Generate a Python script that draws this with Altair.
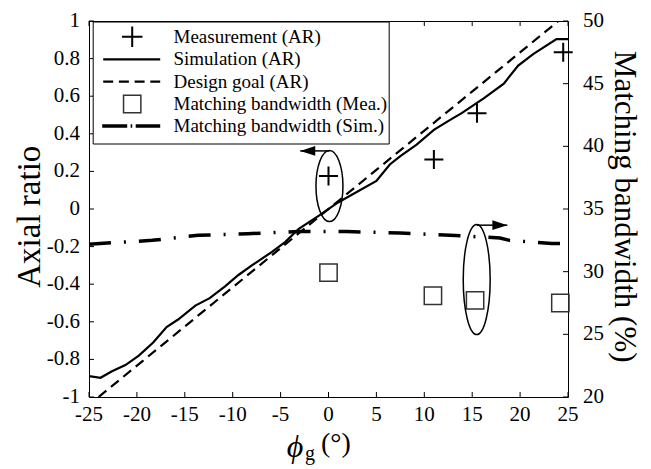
import altair as alt
import pandas as pd

FONT = "Liberation Serif"

# ---- data ----
sim_x = [-25, -23.8, -22.6, -21.2, -19.8, -18.3, -16.9, -15.7, -13.9, -12.4, -10.8, -9.4, -8.0,
         -5.9, -4.5, -3.1, -1.0, 1.0, 5.0, 6.4, 7.5, 9.2, 11.0, 12.7, 13.9, 16.2, 18.3, 19.8,
         21.4, 23.8, 25]
sim_ar = [-0.889, -0.898, -0.863, -0.83, -0.78, -0.71, -0.628, -0.588, -0.514, -0.474, -0.412,
          -0.351, -0.30, -0.228, -0.175, -0.105, -0.035, 0.035, 0.149, 0.237, 0.281, 0.342,
          0.421, 0.474, 0.51, 0.588, 0.667, 0.763, 0.825, 0.904, 0.904]
goal_x = [-24, 24]
goal_ar = [-1, 1]
meas_x = [0, 11, 15.5, 24.5]
meas_ar = [0.176, 0.263, 0.509, 0.834]
bwm_x = [0, 10.9, 15.3, 24.2]
bwm_v = [29.92, 28.08, 27.71, 27.5]
bws_x = [-25, -18.4, -13.6, -8.4, -3.1, 1.9, 7.5, 12.7, 17.9, 18.9, 23.3, 25]
bws_v = [32.19, 32.5, 32.9, 33.03, 33.2, 33.2, 33.08, 32.9, 32.69, 32.5, 32.24, 32.24]

x_ticks = [-25, -20, -15, -10, -5, 0, 5, 10, 15, 20, 25]
x_labels = ["-25", "-20", "-15", "-10", "-5", "0", "5", "10", "15", "20", "25"]
ar_ticks = [-1, -0.8, -0.6, -0.4, -0.2, 0, 0.2, 0.4, 0.6, 0.8, 1]
ar_labels = ["-1", "-0.8", "-0.6", "-0.4", "-0.2", "0", "0.2", "0.4", "0.6", "0.8", "1"]
bw_ticks = [20, 25, 30, 35, 40, 45, 50]
bw_labels = ["20", "25", "30", "35", "40", "45", "50"]
legend_labels = ["Measurement (AR)", "Simulation (AR)", "Design goal (AR)",
                 "Matching bandwidth (Mea.)", "Matching bandwidth (Sim.)"]
y_title_left = "Axial ratio"
y_title_right = "Matching bandwidth (%)"
x_title_parts = ["ϕ", "g", "(°)"]

# annotations (ellipse centres, arrows)
ell1_x, ell1_ar = [0.1], [0.122]
arr1_x, arr1_x2, arr1_ar = [0.1], [-2.95], [0.309]
ell2_x, ell2_bw = [15.47], [29.37]
arr2_x, arr2_x2, arr2_bw = [15.47], [18.67], [33.71]

W, H = 479, 376
TK = 5  # inward tick length
D = -4.3  # vertical shift of pixel-placed items relative to the plot top

# ---- scales ----
xs = alt.Scale(domain=[-25, 25], nice=False, zero=False)
ars = alt.Scale(domain=[-1, 1], nice=False, zero=False)
bws = alt.Scale(domain=[20, 50], nice=False, zero=False)


def X(field="x"):
    return alt.X(f"{field}:Q", scale=xs, axis=None)


def YA(field="y"):
    return alt.Y(f"{field}:Q", scale=ars, axis=None)


def YB(field="y"):
    return alt.Y(f"{field}:Q", scale=bws, axis=None)


PLUS = "M-1,0H1M0,-1V1"

# ---- left (AR) group ----
sim = alt.Chart(pd.DataFrame({"x": sim_x, "y": sim_ar})).mark_line(
    color="black", strokeWidth=2.2, clip=True).encode(x=X(), y=YA())
goal = alt.Chart(pd.DataFrame({"x": goal_x, "y": goal_ar})).mark_line(
    color="black", strokeWidth=2.2, strokeDash=[10, 6], clip=True).encode(x=X(), y=YA())
meas = alt.Chart(pd.DataFrame({"x": meas_x, "y": meas_ar})).mark_point(
    shape=PLUS, size=361, filled=False, color="black", strokeWidth=2, opacity=1).encode(
    x=X(), y=YA())
ell1 = alt.Chart(pd.DataFrame({"x": ell1_x, "y": ell1_ar})).mark_point(
    shape="M-0.38,0A0.38,1,0,1,0,0.38,0A0.38,1,0,1,0,-0.38,0Z", size=5041,
    filled=False, color="black", strokeWidth=1.5, opacity=1).encode(x=X(), y=YA())
arr1 = alt.Chart(pd.DataFrame({"x": arr1_x, "x2": arr1_x2, "y": arr1_ar})).mark_rule(
    color="black", strokeWidth=1.5).encode(x=X(), x2="x2:Q", y=YA())
head1 = alt.Chart(pd.DataFrame({"x": arr1_x2, "y": arr1_ar})).mark_point(
    shape="M0,0L1,-0.33L1,0.33Z", size=900, filled=True, color="black", opacity=1).encode(
    x=X(), y=YA())
# ticks + tick labels
xt_df = pd.DataFrame({"x": x_ticks, "t": x_labels})
tick_bottom = alt.Chart(xt_df).mark_rule(color="black", strokeWidth=1).encode(
    x=X(), y=alt.value(H), y2=alt.value(H - TK))
tick_top = alt.Chart(xt_df).mark_rule(color="black", strokeWidth=1).encode(
    x=X(), y=alt.value(0), y2=alt.value(TK))
lab_bottom = alt.Chart(xt_df).mark_text(
    font=FONT, fontSize=21, align="center", baseline="middle", color="black").encode(
    x=X(), y=alt.value(H + 18), text="t:N")
at_df = pd.DataFrame({"y": ar_ticks, "t": ar_labels})
tick_left = alt.Chart(at_df).mark_rule(color="black", strokeWidth=1).encode(
    y=YA(), x=alt.value(0), x2=alt.value(TK))
lab_left = alt.Chart(at_df).mark_text(
    font=FONT, fontSize=21, align="right", baseline="middle", color="black").encode(
    y=YA(), x=alt.value(-9), text="t:N")
left = alt.layer(sim, goal, meas, ell1, arr1, head1, tick_bottom, tick_top, lab_bottom,
                 tick_left, lab_left)

# ---- right (bandwidth) group ----
bws_line = alt.Chart(pd.DataFrame({"x": bws_x, "y": bws_v})).mark_line(
    color="black", strokeWidth=3.5, strokeDash=[22, 13, 2, 13]).encode(x=X(), y=YB())
bwm = alt.Chart(pd.DataFrame({"x": bwm_x, "y": bwm_v})).mark_point(
    shape="square", size=300, filled=False, color="#333333", strokeWidth=1.5, opacity=1).encode(
    x=X(), y=YB())
ell2 = alt.Chart(pd.DataFrame({"x": ell2_x, "y": ell2_bw})).mark_point(
    shape="M-0.245,0A0.245,1,0,1,0,0.245,0A0.245,1,0,1,0,-0.245,0Z", size=12100,
    filled=False, color="black", strokeWidth=1.5, opacity=1).encode(x=X(), y=YB())
arr2 = alt.Chart(pd.DataFrame({"x": arr2_x, "x2": arr2_x2, "y": arr2_bw})).mark_rule(
    color="black", strokeWidth=1.5).encode(x=X(), x2="x2:Q", y=YB())
head2 = alt.Chart(pd.DataFrame({"x": arr2_x2, "y": arr2_bw})).mark_point(
    shape="M0,0L-1,-0.33L-1,0.33Z", size=900, filled=True, color="black", opacity=1).encode(
    x=X(), y=YB())
bt_df = pd.DataFrame({"y": bw_ticks, "t": bw_labels})
tick_right = alt.Chart(bt_df).mark_rule(color="black", strokeWidth=1).encode(
    y=YB(), x=alt.value(W), x2=alt.value(W - TK))
lab_right = alt.Chart(bt_df).mark_text(
    font=FONT, fontSize=21, align="left", baseline="middle", color="black").encode(
    y=YB(), x=alt.value(W + 15), text="t:N")
right = alt.layer(bws_line, bwm, ell2, arr2, head2, tick_right, lab_right)

# ---- manual legend ----
one = pd.DataFrame({"a": [0]})
box = alt.Chart(one).mark_rect(fill="white", stroke="black", strokeWidth=1).encode(
    x=alt.value(4.2), x2=alt.value(300.2), y=alt.value(5.3 + D), y2=alt.value(127.3 + D))
rows_y = [20 + D, 42.6 + D, 65 + D, 87.3 + D, 109.3 + D]
lg = [box]
lg.append(alt.Chart(one).mark_point(shape=PLUS, size=420, filled=False, color="black",
                                     strokeWidth=2, opacity=1).encode(
    x=alt.value(43.2), y=alt.value(rows_y[0])))
lg.append(alt.Chart(one).mark_rule(color="black", strokeWidth=2.2).encode(
    x=alt.value(14.2), x2=alt.value(71.2), y=alt.value(rows_y[1])))
lg.append(alt.Chart(one).mark_rule(color="black", strokeWidth=2.2, strokeDash=[10, 5.7]).encode(
    x=alt.value(14.2), x2=alt.value(71.2), y=alt.value(rows_y[2])))
lg.append(alt.Chart(one).mark_point(shape="square", size=300, filled=False, color="#333333",
                                     strokeWidth=1.5, opacity=1).encode(
    x=alt.value(43.2), y=alt.value(rows_y[3])))
lg.append(alt.Chart(one).mark_rule(color="black", strokeWidth=3.5,
                                    strokeDash=[25, 3.5, 1.5, 3.5, 30]).encode(
    x=alt.value(13.2), x2=alt.value(71.2), y=alt.value(rows_y[4])))
for lab, ry in zip(legend_labels, rows_y):
    lg.append(alt.Chart(pd.DataFrame({"t": [lab]})).mark_text(
        font=FONT, fontSize=19, align="left", baseline="middle", color="black").encode(
        x=alt.value(84.5), y=alt.value(ry), text="t:N"))

# ---- titles ----
titles = [
    alt.Chart(pd.DataFrame({"t": [y_title_left]})).mark_text(
        font=FONT, fontSize=33, angle=270, align="center", baseline="middle",
        color="black").encode(x=alt.value(-59.5), y=alt.value(200 + D), text="t:N"),
    alt.Chart(pd.DataFrame({"t": [y_title_right]})).mark_text(
        font=FONT, fontSize=31, angle=90, align="center", baseline="middle",
        color="black").encode(x=alt.value(535), y=alt.value(190 + D), text="t:N"),
    alt.Chart(pd.DataFrame({"t": [x_title_parts[0]]})).mark_text(
        font=FONT, fontSize=32, fontStyle="italic", align="center", baseline="middle",
        color="black").encode(x=alt.value(206), y=alt.value(430 + D), text="t:N"),
    alt.Chart(pd.DataFrame({"t": [x_title_parts[1]]})).mark_text(
        font=FONT, fontSize=20, align="left", baseline="middle", color="black").encode(
        x=alt.value(216), y=alt.value(437 + D), text="t:N"),
    alt.Chart(pd.DataFrame({"t": [x_title_parts[2]]})).mark_text(
        font=FONT, fontSize=28, align="left", baseline="middle", color="black").encode(
        x=alt.value(232), y=alt.value(427 + D), text="t:N"),
]

chart = alt.layer(left, right, *lg, *titles).resolve_scale(y="independent").properties(
    width=W, height=H, autosize="none",
    padding={"left": 81, "top": 13, "right": 75, "bottom": 68},
    background="white",
).configure_view(stroke="black", strokeWidth=1)

chart.save("out.html", embed_options={"renderer": "svg", "actions": False})
